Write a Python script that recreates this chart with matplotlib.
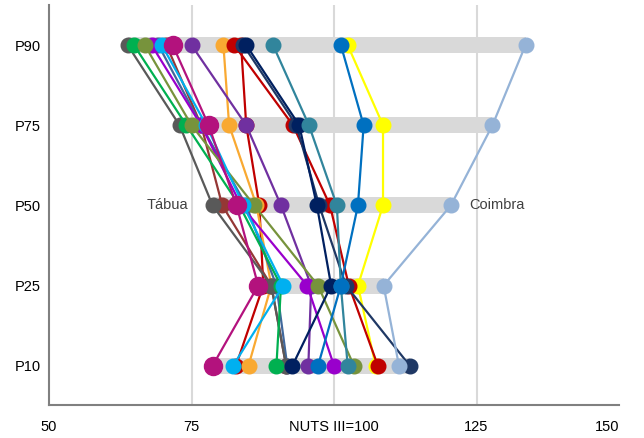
import matplotlib
matplotlib.use("Agg")
import matplotlib.pyplot as plt

plt.rcParams['font.family'] = ['Liberation Sans', 'DejaVu Sans']

# percentis (de baixo para cima)
percentis = ["P10", "P25", "P50", "P75", "P90"]

# valores por concelho: P10, P25, P50, P75, P90 (NUTS III = 100)
tabua = [91.6, 89.0, 78.7, 72.9, 63.8]
verde = [89.9, 90.7, 83.4, 74.1, 64.9]
oliva = [103.5, 97.2, 86.0, 75.0, 66.8]
violeta = [100.0, 95.3, 83.7, 76.7, 68.0]
castanho = [91.6, 89.0, 80.4, 76.7, 70.6]
azul_aco = [91.8, 89.9, 84.6, 76.7, 69.2]
azul_claro = [82.3, 91.1, 84.1, 77.6, 69.8]
roxo = [95.5, 96.0, 90.7, 84.6, 75.0]
laranja = [85.0, 89.0, 86.4, 81.6, 80.6]
vermelho2 = [82.8, 87.6, 86.9, 84.6, 83.7]
vermelho = [107.7, 102.6, 99.3, 92.8, 82.5]
azul_escuro = [113.3, 102.1, 97.4, 93.4, 84.1]
marinho = [92.7, 99.5, 97.0, 93.9, 84.6]
petroleo = [102.4, 101.2, 100.5, 95.6, 89.3]
azul = [97.2, 101.2, 104.2, 105.2, 101.2]
amarelo = [107.3, 104.2, 108.6, 108.6, 102.4]
magenta = [78.7, 86.7, 82.9, 78.0, 71.7]
coimbra = [111.4, 108.7, 120.5, 127.8, 133.6]

# ordem de desenho (os ultimos ficam por cima)
series = [
    (amarelo, "#FFFF00"), (vermelho2, "#C00000"), (laranja, "#F9A932"),
    (castanho, "#953735"), (azul_aco, "#41689C"), (roxo, "#7030A0"),
    (tabua, "#595959"), (verde, "#00B050"), (violeta, "#9900CC"),
    (oliva, "#77933C"), (azul_claro, "#00B0F0"), (vermelho, "#C00000"),
    (azul_escuro, "#1F3864"), (marinho, "#002060"), (petroleo, "#31859C"),
    (azul, "#0070C0"), (coimbra, "#95B3D7"), (magenta, "#B3127D"),
]

fig = plt.figure(figsize=(6.44, 4.38), dpi=100)
ax = fig.add_axes([49 / 644, 1 - 405 / 438, 570 / 644, 400 / 438])

y = list(range(len(percentis)))

# barras cinzentas de amplitude (min a max)
todos = [s for s, _ in series]
mins = [min(s[i] for s in todos) for i in y]
maxs = [max(s[i] for s in todos) for i in y]
ax.barh(y, [b - a for a, b in zip(mins, maxs)], left=mins, height=0.2,
        color="#D9D9D9", zorder=1)

for vals, cor in series:
    ms = 13 if cor == "#B3127D" else 10.5
    ax.plot(vals, y, color=cor, lw=1.6, marker="o", ms=ms, zorder=3)

ax.set_xlim(50, 150)
ax.set_ylim(-0.49, 4.5)
ax.set_yticks(y)
ax.set_yticklabels(percentis, fontsize=10.5)
ax.set_xticks([50, 75, 100, 125, 150])
labels = ax.set_xticklabels(["50", "75", "NUTS III=100", "125", "150"], fontsize=10.5)
labels[-1].set_horizontalalignment("right")
ax.tick_params(axis="x", length=0, pad=11)
ax.tick_params(axis="y", length=0, pad=6)

for g in [75, 100, 125]:
    ax.axvline(g, color="#D9D9D9", lw=1.5, zorder=0)

for s in ["top", "right"]:
    ax.spines[s].set_visible(False)
for s in ["left", "bottom"]:
    ax.spines[s].set_color("#808080")
    ax.spines[s].set_linewidth(1.5)

ax.text(tabua[2] - 4.3, 2, "Tábua", ha="right", va="center", fontsize=10.5, color="#404040")
ax.text(coimbra[2] + 3.3, 2, "Coimbra", ha="left", va="center", fontsize=10.5, color="#404040")

fig.savefig("out.png", dpi=100)
